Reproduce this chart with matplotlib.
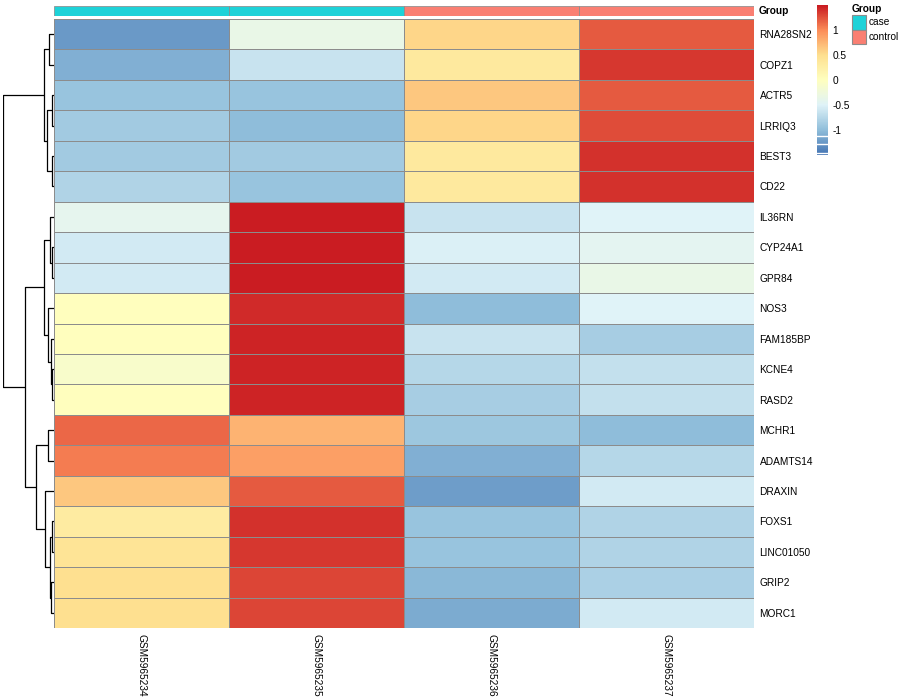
import numpy as np
import matplotlib
matplotlib.use("Agg")
import matplotlib.pyplot as plt
from matplotlib.colors import LinearSegmentedColormap
from matplotlib.patches import Rectangle

plt.rcParams['font.family'] = ['Liberation Sans', 'DejaVu Sans']

# ---------------- data ----------------
genes = ["RNA28SN2", "COPZ1", "ACTR5", "LRRIQ3", "BEST3", "CD22", "IL36RN",
         "CYP24A1", "GPR84", "NOS3", "FAM185BP", "KCNE4", "RASD2", "MCHR1",
         "ADAMTS14", "DRAXIN", "FOXS1", "LINC01050", "GRIP2", "MORC1"]
samples = ["GSM5965234", "GSM5965235", "GSM5965236", "GSM5965237"]
groups = ["case", "case", "control", "control"]
group_levels = ["case", "control"]
group_colors = ["#1ED2D8", "#FA7F72"]

GSM5965234 = [-1.25, -1.1, -0.95, -0.9, -0.9, -0.8, -0.4, -0.6, -0.6, 0.0,
              0.0, -0.1, 0.02, 1.15, 1.07, 0.65, 0.3, 0.42, 0.5, 0.48]
GSM5965235 = [-0.35, -0.65, -0.95, -1.0, -0.9, -0.95, 1.5, 1.5, 1.5, 1.42,
              1.47, 1.47, 1.45, 0.75, 0.88, 1.2, 1.38, 1.35, 1.3, 1.3]
GSM5965236 = [0.55, 0.35, 0.65, 0.55, 0.35, 0.35, -0.65, -0.52, -0.6, -1.0,
              -0.65, -0.78, -0.85, -0.92, -1.1, -1.22, -0.95, -0.95, -1.05, -1.12]
GSM5965237 = [1.2, 1.35, 1.2, 1.28, 1.38, 1.4, -0.5, -0.45, -0.35, -0.5,
              -0.85, -0.68, -0.68, -1.02, -0.78, -0.58, -0.8, -0.8, -0.82, -0.6]

# row dendrogram merges (left id, right id, height); leaves are 0..19 in display order
row_merges = [
    (0, 1, 0.45), (2, 3, 0.15), (4, 5, 0.21), (21, 22, 0.60), (20, 23, 0.96),
    (7, 8, 0.15), (6, 25, 0.36), (11, 12, 0.15), (10, 27, 0.30), (9, 28, 0.51),
    (26, 29, 0.96), (13, 14, 0.51), (16, 17, 0.15), (18, 19, 0.24),
    (32, 33, 0.39), (15, 34, 0.81), (31, 35, 1.65), (30, 36, 2.70),
    (24, 37, 4.68),
]

legend_ticks = [-1, -0.5, 0, 0.5, 1]
legend_labels = ["-1", "-0.5", "0", "0.5", "1"]

# ---------------- figure ----------------
W, H = 900, 700
fig = plt.figure(figsize=(9, 7), dpi=100)


def ax_px(x0, y0, x1, y1):
    return fig.add_axes([x0 / W, 1 - y1 / H, (x1 - x0) / W, (y1 - y0) / H])


data = np.column_stack([GSM5965234, GSM5965235, GSM5965236, GSM5965237])
n_rows, n_cols = data.shape
palette = ['#4575B4', '#91BFDB', '#E0F3F8', '#FFFFBF', '#FEE090', '#FC8D59', '#CA1C22']
cmap = LinearSegmentedColormap.from_list('rdylbu', palette, N=100)
vmin, vmax = -1.5, 1.5
border = '#8C8C8C'
fs = 7.3

# heatmap
ax = ax_px(54, 19, 754, 628)
ax.pcolormesh(data, cmap=cmap, vmin=vmin, vmax=vmax, edgecolors=border, linewidth=0.55)
ax.set_xlim(0, n_cols)
ax.set_ylim(n_rows, 0)
for s in ax.spines.values():
    s.set_visible(False)
ax.yaxis.tick_right()
ax.set_yticks(np.arange(n_rows) + 0.5, genes, fontsize=fs)
ax.set_xticks(np.arange(n_cols) + 0.5, samples, rotation=-90, fontsize=fs)
ax.tick_params(length=0, pad=4)

# annotation bar
axa = ax_px(54, 6, 754, 16)
for i, g in enumerate(groups):
    axa.add_patch(Rectangle((i, 0), 1, 1, facecolor=group_colors[group_levels.index(g)],
                            edgecolor=border, linewidth=0.55))
axa.set_xlim(0, n_cols)
axa.set_ylim(0, 1)
axa.axis('off')
axa.text(1.006, 0.5, "Group", transform=axa.transAxes, fontsize=fs,
         fontweight='bold', va='center', ha='left')

# dendrogram
axd = ax_px(3, 19, 54, 628)
pos = {i: i + 0.5 for i in range(n_rows)}
hgt = {i: 0.0 for i in range(n_rows)}
nid = n_rows
for a, b, h in row_merges:
    axd.plot([hgt[a], h, h, hgt[b]], [pos[a], pos[a], pos[b], pos[b]],
             color='black', linewidth=0.9, solid_capstyle='butt')
    pos[nid] = (pos[a] + pos[b]) / 2
    hgt[nid] = h
    nid += 1
axd.set_ylim(n_rows, 0)
axd.set_xlim(max(m[2] for m in row_merges), 0)
axd.axis('off')

# colour legend
axc = ax_px(817, 5, 828, 155)
grad = np.linspace(vmin, vmax, 100)[:, None]
axc.imshow(grad, cmap=cmap, vmin=vmin, vmax=vmax, origin='lower', aspect='auto',
           extent=[0, 1, vmin, vmax])
for yv in (-1.11, -1.28, -1.46):
    axc.axhline(yv, color='white', linewidth=1.0)
axc.set_xlim(0, 1)
axc.set_ylim(vmin, vmax)
for s in axc.spines.values():
    s.set_visible(False)
axc.set_xticks([])
axc.yaxis.tick_right()
axc.set_yticks(legend_ticks, legend_labels, fontsize=fs)
axc.tick_params(length=0, pad=3)

# group legend
axl = ax_px(848, 0, 900, 50)
axl.set_xlim(848, 900)
axl.set_ylim(50, 0)
axl.axis('off')
axl.text(852, 9.5, "Group", fontsize=fs, fontweight='bold', va='center', ha='left')
for k, (lev, col) in enumerate(zip(group_levels, group_colors)):
    y0 = 15 + k * 14.5
    axl.add_patch(Rectangle((852, y0), 14, 14.5, facecolor=col, edgecolor=border,
                            linewidth=0.8))
    axl.text(869, y0 + 7.2, lev, fontsize=fs, va='center', ha='left')

fig.savefig("out.png", dpi=100)
